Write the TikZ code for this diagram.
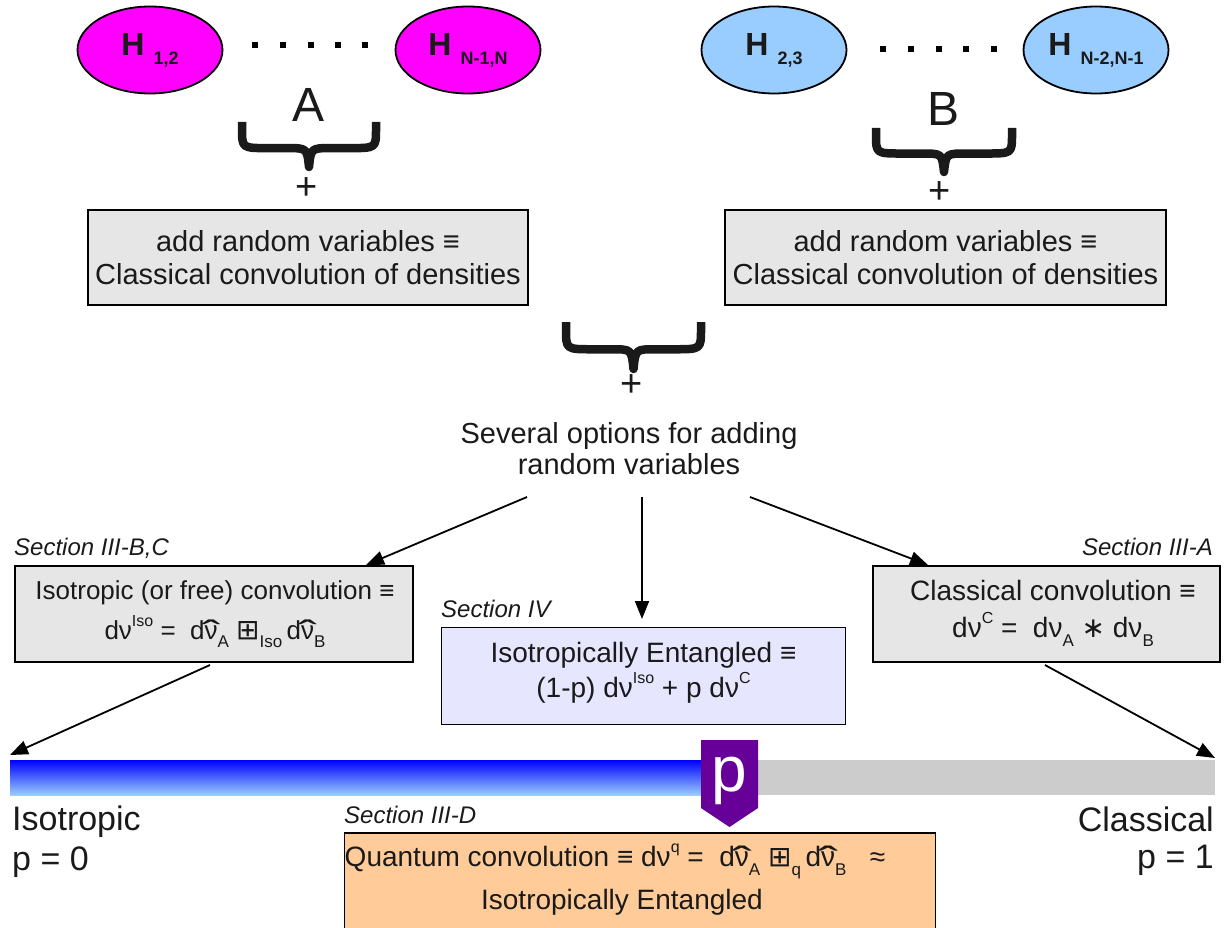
\documentclass[tikz,border=0pt]{standalone}
\usepackage{fontspec}
\setmainfont{Liberation Sans}
\newfontfamily\symf{DejaVu Sans}
\usetikzlibrary{arrows.meta,shapes.geometric}
\definecolor{txt}{HTML}{1A1A1A}
\definecolor{magH}{HTML}{FF00FF}
\definecolor{bluH}{HTML}{99CCFF}
\definecolor{boxgray}{HTML}{E6E6E6}
\definecolor{lav}{HTML}{E6E6FF}
\definecolor{orng}{HTML}{FFCC99}
\definecolor{bargray}{HTML}{CCCCCC}
\definecolor{purp}{HTML}{660099}
\definecolor{barlight}{HTML}{99CCFF}
\newcommand\fs[2]{\fontsize{#1}{#2}\selectfont}
\newcommand\Hlab[1]{{\fs{32}{32}\bfseries H}\hspace{9pt}\raisebox{-9pt}{\fs{18}{18}\bfseries #1}}
\newcommand\sups[1]{\raisebox{0.5em}{\fs{16}{16}#1}}
\newcommand\subs[1]{\raisebox{-0.32em}{\fs{17}{17}#1}}
\newcommand\hnu{\ooalign{ν\cr\hidewidth\raisebox{-0.2em}{\scalebox{2.2}[1.3]{\char"02C6}}\hidewidth\cr}}
\newcommand\bplus{{\symf\fs{28}{28}⊞}}
% brace: left x, right x, top y, tip y
\newcommand\bracepath[4]{%
  (#1,#3) -- (#1,{#3+0.15*(#4-#3)}) .. controls (#1,{#3+0.58*(#4-#3)}) .. ({#1+26},{#3+0.58*(#4-#3)})
  -- ({(#1+#2)/2-22},{#3+0.58*(#4-#3)}) .. controls ({(#1+#2)/2-2},{#3+0.58*(#4-#3)}) .. ({(#1+#2)/2},#4)
  .. controls ({(#1+#2)/2+2},{#3+0.58*(#4-#3)}) .. ({(#1+#2)/2+22},{#3+0.58*(#4-#3)})
  -- ({#2-26},{#3+0.58*(#4-#3)}) .. controls (#2,{#3+0.58*(#4-#3)}) .. (#2,{#3+0.15*(#4-#3)}) -- (#2,#3)}
\begin{document}
\begin{tikzpicture}[x=1pt,y=-1pt,
  every node/.style={text=txt},
  hell/.style={ellipse, draw=black, line width=1.8pt, minimum width=145pt, minimum height=87pt, inner sep=0pt},
  gbox/.style={draw=black, line width=1.8pt, fill=boxgray, inner sep=0pt, align=center},
  sect/.style={font=\fs{24}{24}\itshape, inner sep=0pt},
  brc/.style={line width=8.5pt, draw=txt, line join=round},
  plus/.style={font=\fs{38}{38}, inner sep=0pt},
  arr/.style={draw=black, line width=1.8pt, -{Triangle[length=18pt,width=14pt]}},
  dotf/.style={fill=black}
]
\useasboundingbox (0,0) rectangle (1226,928);

% ellipses
\node[hell, fill=magH] (h12) at (150,50) {\Hlab{1,2}};
\node[hell, fill=magH] (hn1) at (468,50) {\Hlab{N-1,N}};
\node[hell, fill=bluH] (h23) at (774,50) {\Hlab{2,3}};
\node[hell, fill=bluH] (hn2) at (1096,50) {\Hlab{N-2,N-1}};
\foreach \x in {255,283,311,338,365} \fill[dotf] (\x-3,42) rectangle (\x+3,48);
\foreach \x in {883,911,939,966,994} \fill[dotf] (\x-3,46) rectangle (\x+3,52);

% A / B braces
\node[anchor=base, font=\fs{48}{48}, inner sep=0pt] (lA) at (309,122) {A};
\node[anchor=base, font=\fs{48}{48}, inner sep=0pt] (lB) at (943,126) {B};
\draw[brc] \bracepath{242}{376}{122}{167};
\draw[brc] \bracepath{876}{1012}{128}{172};
\node[plus] (pA) at (307,189) {+};
\node[plus] (pB) at (940,193) {+};

% boxes
\node[gbox, minimum width=440pt, minimum height=95pt, font=\fs{29}{33}] (bA) at (308,257.5) {add random variables ≡\\Classical convolution of densities};
\node[gbox, minimum width=441pt, minimum height=95pt, font=\fs{29}{33}] (bB) at (945.5,257.5) {add random variables ≡\\Classical convolution of densities};

% middle brace
\draw[brc] \bracepath{566}{701}{322}{369};
\node[plus] (pM) at (632,386) {+};

\node[font=\fs{29}{31}, align=center, inner sep=0pt] (opts) at (629,449) {Several options for adding\\random variables};

% arrow origins and ends
\coordinate (o1) at (527,497);
\coordinate (o2) at (642,497);
\coordinate (o3) at (750,497);
\coordinate (t1) at (366,565);
\coordinate (t2) at (642,619);
\coordinate (t3) at (928,565);

% section labels
\node[sect, anchor=base west] (s1) at (14,555) {Section III-B,C};
\node[sect, anchor=base west] (s2) at (441,617) {Section IV};
\node[sect, anchor=base east] (s3) at (1213,555) {Section III-A};
\node[sect, anchor=base west] (s4) at (344,823) {Section III-D};

% convolution boxes
\node[gbox, minimum width=398pt, minimum height=96pt] (iso) at (214,614) {};
\node[align=center, font=\fs{26}{40}, inner sep=0pt] (isot) at (215,614) {Isotropic (or free) convolution ≡\\dν\sups{Iso} =\ \ d\hnu\subs{A} \bplus\subs{Iso}\,d\hnu\subs{B}};
\node[gbox, fill=lav, minimum width=404pt, minimum height=97pt] (ent) at (643.5,676) {};
\node[align=center, font=\fs{28}{35}, inner sep=0pt] (entt) at (643.5,673) {Isotropically Entangled ≡\\(1-p) dν\sups{Iso} + p dν\sups{C}};
\node[gbox, minimum width=347pt, minimum height=96pt] (cla) at (1046.5,614) {};
\node[align=center, font=\fs{28}{37}, inner sep=0pt] (clat) at (1053,613) {Classical convolution ≡\\dν\sups{C} =\ \ dν\subs{A} {\symf\fs{28}{28}∗} dν\subs{B}};

\draw[arr] (o1) -- (t1);
\draw[arr] (o2) -- (t2);
\draw[arr] (o3) -- (t3);

% bar
\shade[top color=blue, bottom color=barlight] (10,760) rectangle (715,795);
\fill[bargray] (715,760) rectangle (1215,795);
\coordinate (bl) at (10,755);
\coordinate (br) at (1215,758);
\coordinate (a1) at (210,665);
\coordinate (a3) at (1045,665);
\draw[arr] (a1) -- (bl);
\draw[arr] (a3) -- (br);

% marker
\fill[purp] (701,740) -- (758,740) -- (758,808) -- (729.5,827) -- (701,808) -- cycle;
\node[anchor=base, text=white, font=\fs{64}{64}, inner sep=0pt] (pm) at (729,791) {p};

% end labels
\node[anchor=base west, align=left, font=\fs{34}{40}, inner sep=0pt] (liso) at (12,870) {Isotropic\\p = 0};
\node[anchor=base east, align=right, font=\fs{34}{37}, inner sep=0pt] (lcla) at (1214,868) {Classical\\p = 1};

% quantum box
\node[draw=black, line width=1.8pt, fill=orng, minimum width=591pt, minimum height=110pt, inner sep=0pt] (qb) at (640,888) {};
\node[align=center, font=\fs{28}{43}, inner sep=0pt] (qt) at (622,880) {\hspace*{-14pt}Quantum convolution ≡ dν\sups{q} =\ \ d\hnu\subs{A} \bplus\subs{q}\,d\hnu\subs{B}\ \ \ ≈\\Isotropically Entangled};
\end{tikzpicture}
\end{document}
